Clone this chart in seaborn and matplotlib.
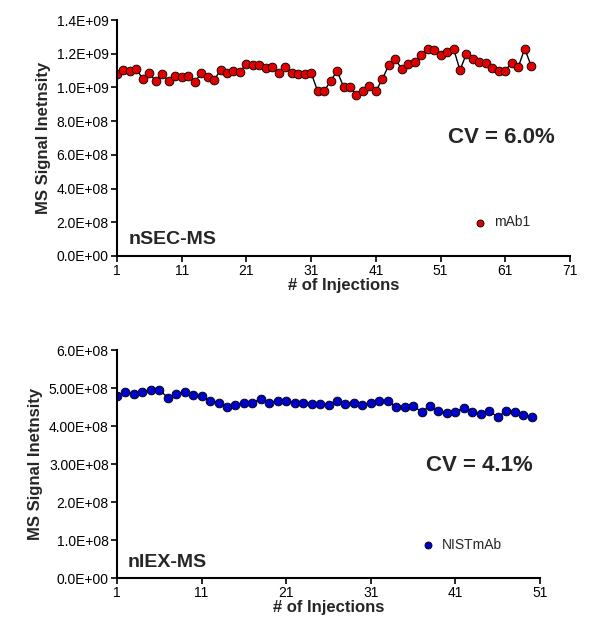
import matplotlib
matplotlib.use("Agg")
import matplotlib.pyplot as plt
import seaborn as sns
import pandas as pd

sns.set_style("ticks")
plt.rcParams['font.family'] = ['Liberation Sans', 'DejaVu Sans']

mab1 = [1.077,1.103,1.097,1.109,1.049,1.083,1.037,1.077,1.037,1.065,1.059,1.069,1.030,1.085,1.059,1.043,
        1.103,1.083,1.099,1.093,1.139,1.131,1.131,1.117,1.123,1.083,1.119,1.087,1.079,1.079,1.087,0.978,
        0.978,1.037,1.099,1.004,1.004,0.954,0.980,1.010,0.978,1.049,1.133,1.168,1.109,1.137,1.149,1.190,
        1.230,1.220,1.190,1.210,1.230,1.103,1.200,1.170,1.150,1.143,1.115,1.100,1.100,1.147,1.120,1.230,1.127]
nist = [4.80,4.90,4.84,4.90,4.95,4.95,4.75,4.84,4.90,4.82,4.78,4.67,4.61,4.49,4.55,4.61,4.61,4.71,4.61,4.67,
        4.67,4.61,4.61,4.58,4.58,4.55,4.67,4.58,4.61,4.55,4.61,4.65,4.67,4.49,4.49,4.52,4.38,4.52,4.40,4.34,
        4.38,4.47,4.38,4.32,4.40,4.23,4.40,4.38,4.29,4.25]
top_ticks = [0, 2e8, 4e8, 6e8, 8e8, 1e9, 1.2e9, 1.4e9]
top_labels = ["0.0E+00","2.0E+08","4.0E+08","6.0E+08","8.0E+08","1.0E+09","1.2E+09","1.4E+09"]
bot_ticks = [0, 1e8, 2e8, 3e8, 4e8, 5e8, 6e8]
bot_labels = ["0.0E+00","1.0E+08","2.0E+08","3.00E+08","4.00E+08","5.00E+08","6.0E+08"]

df1 = pd.DataFrame({"inj": range(1, len(mab1)+1), "sig": [v*1e9 for v in mab1]})
df2 = pd.DataFrame({"inj": range(1, len(nist)+1), "sig": [v*1e8 for v in nist]})

W, H = 614, 632
fig = plt.figure(figsize=(W/100, H/100), dpi=100)
ax1 = fig.add_axes([117/W, 1-256/H, (570-117)/W, (256-20)/H])
ax2 = fig.add_axes([117/W, 1-578/H, (540-117)/W, (578-350)/H])

def draw(ax, df, color, label, xmax, ticks, labels, ymax, name, cv, cvy, namey):
    sns.lineplot(data=df, x="inj", y="sig", ax=ax, color="black", lw=1, zorder=1)
    sns.scatterplot(data=df, x="inj", y="sig", ax=ax, color=color, edgecolor="black",
                    linewidth=0.6, s=40, zorder=2, label=label)
    ax.set_xlim(1, xmax)
    ax.set_xticks(range(1, xmax+1, 10))
    ax.set_ylim(0, ymax)
    ax.set_yticks(ticks)
    ax.set_yticklabels(labels)
    ax.tick_params(labelsize=10, direction="out", length=4, width=1.2, colors="black", pad=2)
    ax.set_xlabel("# of Injections", fontsize=12, fontweight="bold", labelpad=0)
    ax.set_ylabel("MS Signal Inetnsity", fontsize=12, fontweight="bold")
    for s in ["left", "bottom"]:
        ax.spines[s].set_linewidth(1.5)
        ax.spines[s].set_color("black")
    sns.despine(ax=ax)
    ax.text(0.025, namey, name, transform=ax.transAxes, fontsize=14, fontweight="bold")
    ax.text(0.73, cvy, cv, transform=ax.transAxes, fontsize=16, fontweight="bold")
    ax.legend(loc="lower right", bbox_to_anchor=(0.94, 0.06), frameon=False,
              fontsize=10, handletextpad=0.0, markerscale=0.8)

draw(ax1, df1, "#e00000", "mAb1", 71, top_ticks, top_labels, 1.4e9, "nSEC-MS", "CV = 6.0%", 0.48, 0.05)
draw(ax2, df2, "#0000cc", "NISTmAb", 51, bot_ticks, bot_labels, 6e8, "nIEX-MS", "CV = 4.1%", 0.47, 0.05)
fig.savefig("out.png", dpi=100)
